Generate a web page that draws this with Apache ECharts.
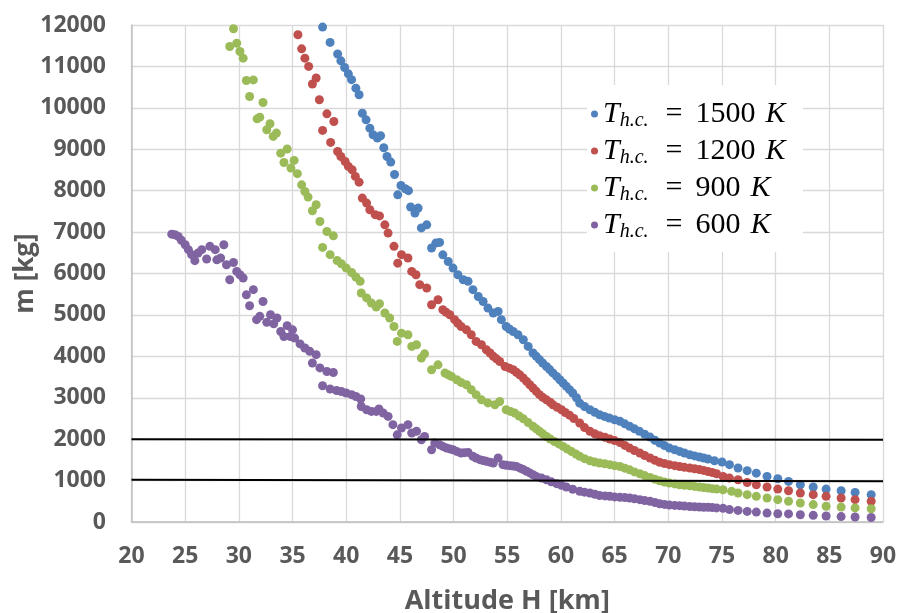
<!DOCTYPE html>
<html>
<head>
<meta charset="utf-8">
<script src="https://cdn.jsdelivr.net/npm/echarts@6/dist/echarts.min.js"></script>
<style>
html,body{margin:0;padding:0;background:#fff;overflow:hidden}
#c{width:900px;height:613px}
</style>
</head>
<body>
<div id="c"></div>
<script>
// ---- Data ----
const tempLabels = ['1500', '1200', '900', '600'];
const xTicks = [20, 25, 30, 35, 40, 45, 50, 55, 60, 65, 70, 75, 80, 85, 90];

const blue1500 = [
[37.8,11950],[38.5,11580],[39.2,11300],[39.5,11135],[39.85,10975],[40.2,10820],[40.5,10680],[40.9,10475],[41.2,10315],
[41.5,9870],[41.85,9710],[42.2,9510],[42.5,9350],[42.9,9270],[43.2,9325],[43.5,9035],[43.8,8825],[44.15,8690],[44.5,8390],
[44.8,7900],[45.1,8125],[45.5,8045],[45.8,8000],[46.0,7605],[46.4,7460],[46.7,7580],[47.0,7100],[47.5,7175],[47.95,6615],
[48.35,6735],[48.7,6750],[49.0,6450],[49.5,6290],[49.95,6130],[50.4,5970],[50.9,5850],[51.35,5810],[51.8,5610],[52.3,5445],
[52.75,5325],[53.2,5165],[53.7,5045],[54.15,5085],[54.45,4885],[54.9,4720],[55.2,4660],[55.55,4600],[56.0,4520],[56.5,4400],
[56.95,4240],[57.4,4080],[57.7,4000],[58.0,3920],[58.3,3840],[58.65,3755],[58.95,3680],[59.25,3600],[59.6,3515],[59.9,3435],
[60.2,3355],[60.5,3275],[60.8,3195],[61.1,3115],[61.45,3000],[61.75,2870],[62.2,2790],[62.7,2710],[63.15,2650],[63.6,2590],
[64.05,2550],[64.5,2510],[65.0,2470],[65.5,2430],[65.95,2370],[66.4,2310],[66.85,2250],[67.3,2190],[67.8,2120],[68.3,2050],
[68.75,1975],[69.2,1905],[69.65,1845],[70.1,1785],[70.6,1745],[71.05,1705],[71.5,1665],[72.0,1625],[72.45,1595],[72.9,1570],
[73.3,1545],[73.7,1520],[74.3,1480],[75.0,1450],[75.7,1385],[76.5,1305],[77.35,1240],[78.2,1180],[79.2,1100],[80.2,1045],
[81.2,980],[82.3,900],[83.5,845],[84.7,795],[86.1,755],[87.4,715],[88.9,660]
];

const red1200 = [
[34.9,12005],[35.5,11765],[35.85,11425],[36.15,11200],[36.5,11000],[36.85,10575],[37.2,10720],[37.5,10195],[37.8,9455],
[38.2,9855],[38.55,9165],[38.85,9670],[39.2,8945],[39.5,8825],[39.9,8705],[40.2,8585],[40.55,8505],[40.85,8345],[41.2,8205],
[41.5,7820],[41.9,7700],[42.2,7540],[42.7,7420],[43.1,7390],[43.6,7175],[43.9,6975],[44.45,6655],[44.8,6250],[45.15,6455],
[45.75,6375],[46.1,6050],[46.5,5970],[46.85,5730],[47.5,5650],[47.95,5245],[48.55,5365],[49.0,5125],[49.3,5065],[49.65,5005],
[50.1,4885],[50.4,4800],[50.7,4720],[51.2,4640],[51.65,4520],[52.1,4360],[52.6,4280],[53.05,4160],[53.4,4080],[53.7,4000],
[54.0,3940],[54.3,3875],[54.8,3755],[55.2,3715],[55.55,3675],[55.85,3615],[56.15,3555],[56.5,3475],[56.8,3395],[57.1,3315],
[57.4,3235],[57.7,3155],[58.0,3075],[58.3,3010],[58.65,2950],[59.0,2890],[59.25,2830],[59.65,2770],[60.05,2710],[60.4,2645],
[60.8,2580],[61.2,2500],[61.75,2390],[62.2,2280],[62.7,2190],[63.15,2130],[63.6,2085],[64.1,2045],[64.55,2005],[65.0,1965],
[65.5,1920],[65.95,1850],[66.4,1785],[66.85,1725],[67.35,1665],[67.8,1605],[68.3,1545],[68.75,1490],[69.2,1440],[69.65,1410],
[70.1,1385],[70.6,1360],[71.05,1340],[71.5,1320],[72.0,1305],[72.45,1285],[72.9,1265],[73.3,1245],[73.7,1220],[74.1,1195],
[74.5,1165],[75.1,1100],[75.7,1060],[76.5,1020],[77.35,955],[78.2,900],[79.2,845],[80.2,795],[81.2,755],[82.3,700],
[83.5,660],[84.7,620],[86.1,580],[87.4,540],[88.9,500]
];

const green900 = [
[28.85,12005],[29.15,11480],[29.5,11910],[29.8,11560],[30.1,11360],[30.4,11200],[30.7,10660],[31.0,10275],[31.35,10675],
[31.7,9735],[31.95,9775],[32.25,10130],[32.6,9470],[32.9,9615],[33.2,9310],[33.5,9390],[33.9,8905],[34.2,8680],[34.5,9005],
[34.85,8545],[35.15,8730],[35.45,8410],[35.85,8140],[36.15,7980],[36.45,7845],[36.85,7515],[37.2,7660],[37.55,7255],[37.8,6630],
[38.2,7015],[38.5,6455],[38.8,6910],[39.15,6315],[39.55,6235],[40.0,6130],[40.5,6025],[40.9,5915],[41.3,5810],[41.4,5530],
[41.9,5410],[42.35,5285],[42.8,5190],[43.1,5270],[43.6,5045],[44.05,4925],[44.45,4720],[44.75,4360],[45.15,4560],[45.75,4520],
[46.1,4240],[46.55,4280],[47.0,3960],[47.3,4060],[47.95,3675],[48.55,3795],[49.2,3595],[49.5,3555],[49.8,3515],[50.3,3435],
[50.7,3370],[51.2,3315],[51.65,3195],[52.1,3075],[52.6,2950],[53.2,2875],[53.85,2830],[54.3,2910],[54.9,2710],[55.3,2670],
[55.7,2630],[56.1,2560],[56.5,2490],[56.95,2400],[57.4,2310],[57.7,2250],[58.0,2190],[58.3,2130],[58.65,2065],[59.0,2005],
[59.4,1945],[59.8,1885],[60.2,1825],[60.6,1760],[61.0,1700],[61.4,1640],[61.75,1585],[62.2,1530],[62.7,1480],[63.15,1450],
[63.6,1425],[64.1,1405],[64.55,1385],[65.0,1360],[65.5,1340],[65.95,1300],[66.4,1260],[66.85,1210],[67.35,1165],[67.8,1120],
[68.3,1075],[68.75,1035],[69.2,995],[69.65,965],[70.1,940],[70.6,920],[71.05,900],[71.5,885],[72.0,875],[72.45,860],
[72.9,845],[73.3,830],[73.7,820],[74.1,805],[74.5,795],[75.1,780],[75.9,740],[76.5,700],[77.35,660],[78.2,620],
[79.2,580],[80.2,540],[81.2,500],[82.3,460],[83.5,420],[84.7,380],[86.1,360],[87.4,340],[88.9,320]
];

const purple600 = [
[23.75,6950],[24.05,6935],[24.35,6895],[24.65,6800],[25.0,6695],[25.3,6575],[25.6,6455],[25.9,6310],[26.2,6495],[26.55,6575],
[27.0,6350],[27.3,6655],[27.8,6575],[27.95,6330],[28.3,6375],[28.6,6695],[28.85,6210],[29.15,5850],[29.5,6265],[29.8,6050],
[30.1,5970],[30.4,5890],[30.7,5485],[31.0,5220],[31.35,5610],[31.65,4885],[31.95,4965],[32.25,5325],[32.6,4820],[32.95,5005],
[33.25,4785],[33.55,4925],[33.9,4600],[34.2,4480],[34.5,4740],[34.8,4480],[35.0,4640],[35.2,4440],[35.7,4300],[36.15,4200],
[36.6,4120],[36.85,3840],[37.2,4040],[37.55,3720],[37.8,3290],[38.2,3635],[38.5,3210],[38.8,3610],[39.1,3175],[39.55,3150],
[40.0,3115],[40.5,3075],[40.9,3030],[41.35,2970],[41.4,2790],[41.9,2710],[42.35,2670],[42.8,2670],[43.05,2730],[43.45,2630],
[43.9,2550],[44.35,2350],[44.75,2105],[45.15,2270],[45.75,2350],[46.1,2150],[46.55,2190],[47.0,1985],[47.3,2065],[47.95,1745],
[48.25,1905],[48.7,1865],[49.0,1825],[49.35,1785],[49.65,1765],[49.95,1745],[50.3,1705],[50.7,1665],[51.0,1675],[51.35,1680],
[51.8,1585],[52.1,1545],[52.45,1505],[52.75,1485],[53.05,1465],[53.4,1445],[53.7,1425],[54.15,1545],[54.6,1385],[54.9,1370],
[55.25,1360],[55.55,1350],[55.85,1340],[56.2,1300],[56.5,1265],[56.8,1225],[57.1,1185],[57.4,1140],[57.7,1100],[58.2,1060],
[58.65,1020],[59.1,970],[59.6,925],[60.05,885],[60.5,845],[61.1,790],[61.75,740],[62.2,720],[62.7,700],[63.15,670],
[63.6,640],[64.1,630],[64.55,620],[65.0,605],[65.5,595],[65.95,590],[66.4,580],[66.85,560],[67.35,540],[67.8,520],
[68.3,500],[68.75,470],[69.2,440],[69.65,425],[70.1,410],[70.6,400],[71.05,395],[71.5,385],[72.0,375],[72.45,368],
[72.9,360],[73.3,357],[73.7,355],[74.1,348],[74.5,340],[75.1,330],[75.7,300],[76.5,280],[77.35,255],[78.2,240],
[79.2,215],[80.2,200],[81.2,195],[82.3,175],[83.5,160],[84.7,145],[86.1,130],[87.4,120],[88.9,110]
];

// Horizontal reference lines (black)
const limit2000 = [[20, 2000], [90, 1988]];
const limit1000 = [[20, 1020], [90, 982]];

// ---- Chart ----
const colors = ['#4F81BD', '#C0504D', '#9BBB59', '#8064A2'];
const seriesData = [blue1500, red1200, green900, purple600];
const names = tempLabels.map(t => 'T_h.c. = ' + t + ' K');

const chart = echarts.init(document.getElementById('c'), null, {renderer: 'canvas'});

const series = seriesData.map((d, i) => ({
  name: names[i],
  type: 'scatter',
  data: d,
  symbol: 'circle',
  symbolSize: 9,
  itemStyle: {color: colors[i], opacity: 1},
  z: 3
}));
[limit2000, limit1000].forEach((d, i) => series.push({
  name: 'limit' + i,
  type: 'line',
  data: d,
  showSymbol: false,
  symbol: 'none',
  lineStyle: {color: '#000', width: 2},
  z: 4,
  silent: true
}));

const serif = '"Liberation Serif", "DejaVu Serif", serif';
const richStyles = {
  t: {fontFamily: serif, fontStyle: 'italic', fontSize: 30, color: '#000', lineHeight: 30, verticalAlign: 'top'},
  s: {fontFamily: serif, fontStyle: 'italic', fontSize: 20, color: '#000', lineHeight: 22, padding: [12, 6, 0, 0], verticalAlign: 'top'},
  q: {fontFamily: serif, fontSize: 30, color: '#000', lineHeight: 30, padding: [0, 13, 0, 11], verticalAlign: 'top'},
  n: {fontFamily: serif, fontSize: 30, color: '#000', lineHeight: 30, padding: [0, 10, 0, 0], verticalAlign: 'top'}
};
const legendTops = [99, 136, 173, 210];
const legends = names.map((nm, i) => ({
  data: [nm],
  orient: 'vertical',
  left: 591,
  top: legendTops[i],
  padding: 0,
  itemWidth: 7,
  itemHeight: 7,
  icon: 'circle',
  z: 10,
  formatter: function (name) {
    const t = tempLabels[names.indexOf(name)];
    return '{t|T}{s|h.c.}{q|=}{n|' + t + '}{t|K}';
  },
  textStyle: {rich: richStyles}
}));

const sans = '"Open Sans", sans-serif';
chart.setOption({
  animation: false,
  backgroundColor: '#fff',
  grid: {left: 131.5, right: 17, top: 25, bottom: 91, containLabel: false, outerBoundsMode: 'none'},
  legend: legends,
  graphic: [{
    type: 'rect',
    left: 587, top: 85, z: 5,
    shape: {width: 216, height: 167},
    style: {fill: '#fff'},
    silent: true
  }],
  xAxis: {
    type: 'value',
    min: 20, max: 90, interval: 5,
    name: 'Altitude H [km]',
    nameLocation: 'middle',
    nameGap: 66,
    nameMoveOverlap: false,
    nameTextStyle: {fontFamily: sans, fontWeight: 'bold', fontSize: 27, color: '#595959'},
    axisLine: {show: true, lineStyle: {color: '#BFBFBF', width: 1.5}},
    axisTick: {show: false},
    splitLine: {show: true, lineStyle: {color: '#D9D9D9', width: 1.3}},
    axisLabel: {
      margin: 23,
      fontFamily: sans, fontWeight: 'bold', fontSize: 23, color: '#595959',
      formatter: v => xTicks.includes(v) ? String(v) : ''
    }
  },
  yAxis: {
    type: 'value',
    min: 0, max: 12000, interval: 1000,
    name: 'm [kg]',
    nameLocation: 'middle',
    nameGap: 93,
    nameMoveOverlap: false,
    nameTextStyle: {fontFamily: sans, fontWeight: 'bold', fontSize: 26, color: '#595959'},
    axisLine: {show: true, lineStyle: {color: '#BFBFBF', width: 1.5}},
    axisTick: {show: false},
    splitLine: {show: true, lineStyle: {color: '#D9D9D9', width: 1.3}},
    axisLabel: {
      margin: 25.5,
      fontFamily: sans, fontWeight: 'bold', fontSize: 23, color: '#595959',
      formatter: v => String(v)
    }
  },
  series: series
});
</script>
</body>
</html>
